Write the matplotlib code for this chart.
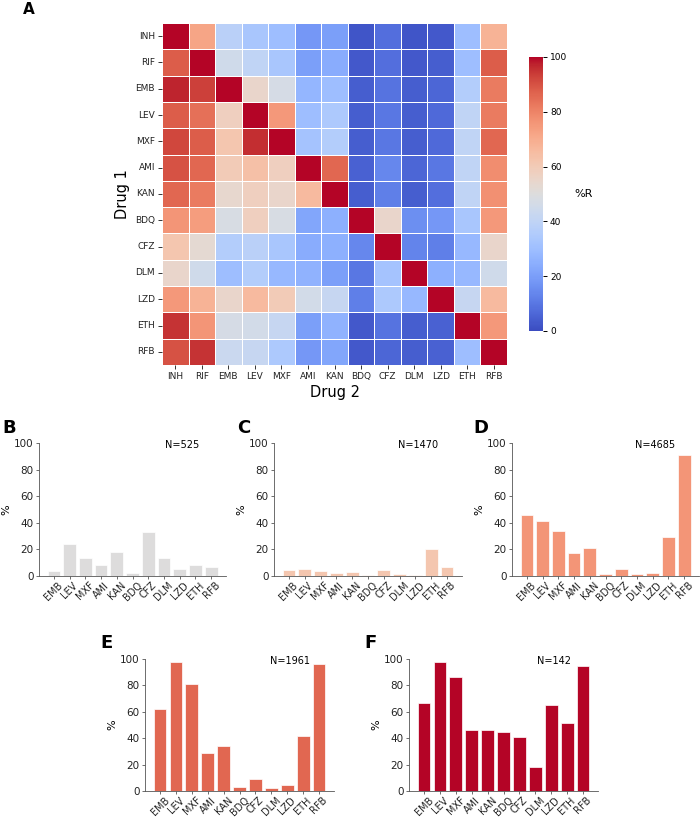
import matplotlib
matplotlib.use("Agg")
import matplotlib.pyplot as plt
import numpy as np
import seaborn as sns

drugs = ["INH", "RIF", "EMB", "LEV", "MXF", "AMI", "KAN", "BDQ", "CFZ", "DLM", "LZD", "ETH", "RFB"]

row_INH = [100, 72, 38, 33, 30, 18, 20, 2, 8, 2, 3, 30, 68]
row_RIF = [88, 100, 45, 40, 33, 20, 24, 3, 8, 3, 4, 30, 88]
row_EMB = [97, 93, 100, 55, 47, 27, 30, 4, 9, 4, 6, 36, 82]
row_LEV = [88, 84, 58, 100, 75, 30, 34, 4, 10, 4, 7, 40, 82]
row_MXF = [92, 88, 62, 96, 100, 32, 36, 4, 10, 4, 7, 40, 86]
row_AMI = [90, 86, 60, 64, 58, 100, 86, 5, 14, 6, 10, 40, 78]
row_KAN = [86, 82, 54, 58, 55, 66, 100, 4, 12, 4, 8, 40, 77]
row_BDQ = [76, 74, 48, 58, 48, 22, 25, 100, 55, 16, 18, 33, 75]
row_CFZ = [62, 53, 36, 38, 33, 24, 25, 14, 100, 13, 12, 28, 55]
row_DLM = [55, 45, 30, 36, 28, 26, 20, 10, 32, 100, 25, 28, 45]
row_LZD = [75, 68, 55, 66, 60, 46, 42, 12, 34, 28, 100, 42, 66]
row_ETH = [95, 76, 47, 46, 42, 20, 26, 3, 9, 4, 5, 100, 75]
row_RFB = [90, 95, 43, 42, 34, 18, 22, 3, 6, 4, 5, 30, 100]

bar_drugs = ["EMB", "LEV", "MXF", "AMI", "KAN", "BDQ", "CFZ", "DLM", "LZD", "ETH", "RFB"]
vals_B = [4, 24, 13.5, 8.5, 18, 2.5, 33, 13.5, 5.5, 8, 7]
vals_C = [4.5, 5.5, 4, 2.5, 3, 0.5, 4.5, 1.5, 1, 20.5, 6.5]
vals_D = [46, 41, 34, 17, 21, 1.5, 5.5, 1.5, 2.5, 29, 91]
vals_E = [62, 98, 81, 29, 34, 3, 9, 2, 4.5, 42, 96]
vals_F = [67, 98, 86.5, 46, 46, 44.5, 41, 18.5, 65.5, 51.5, 95]
n_labels = ["N=525", "N=1470", "N=4685", "N=1961", "N=142"]
panel_letters = ["B", "C", "D", "E", "F"]

matrix = np.array([row_INH, row_RIF, row_EMB, row_LEV, row_MXF, row_AMI, row_KAN,
                   row_BDQ, row_CFZ, row_DLM, row_LZD, row_ETH, row_RFB], dtype=float)

W, H = 700, 819
fig = plt.figure(figsize=(W / 100, H / 100), dpi=100)


def px(l, t, r, b):
    return [l / W, 1 - b / H, (r - l) / W, (b - t) / H]


cmap = plt.get_cmap("coolwarm")
narrow = ["Liberation Sans Narrow", "DejaVu Sans"]

ax_hm = fig.add_axes(px(162, 23, 507, 365))
ax_cb = fig.add_axes(px(529, 57, 543, 331))
sns.heatmap(matrix, ax=ax_hm, cbar_ax=ax_cb, cmap="coolwarm", vmin=0, vmax=100,
            linewidths=0.7, linecolor="white", xticklabels=drugs, yticklabels=drugs)
ax_hm.tick_params(axis="both", labelsize=6.5, length=3, width=0.7, colors="#333333",
                  labelcolor="#222222", pad=2)
ax_hm.set_yticklabels(drugs, rotation=0)
ax_hm.set_xticklabels(drugs, rotation=0)
ax_hm.set_xlabel("Drug 2", fontsize=10.5, labelpad=3)
ax_hm.set_ylabel("Drug 1", fontsize=10.5, labelpad=4)
ax_cb.tick_params(labelsize=6.5, length=3, width=0.7, pad=2)
ax_cb.set_yticks([0, 20, 40, 60, 80, 100])
ax_cb.set_ylabel("%R", rotation=0, fontsize=8, labelpad=12, va="center")
for s in ax_cb.spines.values():
    s.set_visible(False)
fig.text(23 / W, 1 - 10 / H, "A", fontsize=11, fontweight="bold", va="center", ha="left")

bar_colors = [cmap(0.5), cmap(0.62), cmap(0.76), cmap(0.86), cmap(1.0)]
bar_vals = [vals_B, vals_C, vals_D, vals_E, vals_F]
boxes = [(39, 443, 226, 576), (274, 443, 462, 576), (512, 443, 699, 576),
         (145, 659, 334, 791), (409, 659, 598, 791)]
letter_pos = [(2, 428), (237, 428), (473, 428), (100, 643), (364, 643)]

for vals, col, box, lab, nlab, lp in zip(bar_vals, bar_colors, boxes, panel_letters, n_labels, letter_pos):
    ax = fig.add_axes(px(*box))
    x = np.arange(len(bar_drugs))
    ax.bar(x, vals, width=0.8, color=col, edgecolor="white", linewidth=0.5)
    ax.set_ylim(0, 100)
    ax.set_yticks([0, 20, 40, 60, 80, 100])
    ax.set_yticklabels(["0", "20", "40", "60", "80", "100"], family=narrow, fontsize=7.5)
    ax.set_xticks(x)
    ax.set_xticklabels(bar_drugs, rotation=45, ha="center", family=narrow, fontsize=7)
    ax.tick_params(axis="y", length=2.5, width=0.6, pad=1.5, colors="#555555", labelcolor="#222222")
    ax.tick_params(axis="x", length=2.5, width=0.6, pad=0.5, colors="#555555", labelcolor="#222222")
    ax.set_ylabel("%", fontsize=8)
    width_px = box[2] - box[0]
    ax.yaxis.set_label_coords(-28 / width_px, 0.5)
    for s in ["top", "right"]:
        ax.spines[s].set_visible(False)
    for s in ["left", "bottom"]:
        ax.spines[s].set_linewidth(0.6)
        ax.spines[s].set_color("#555555")
    ax.text(0.765, 0.985, nlab, transform=ax.transAxes, ha="center", va="center", fontsize=7)
    fig.text(lp[0] / W, 1 - lp[1] / H, lab, fontsize=13, fontweight="bold", ha="left", va="center")

fig.savefig("out.png", dpi=100)
